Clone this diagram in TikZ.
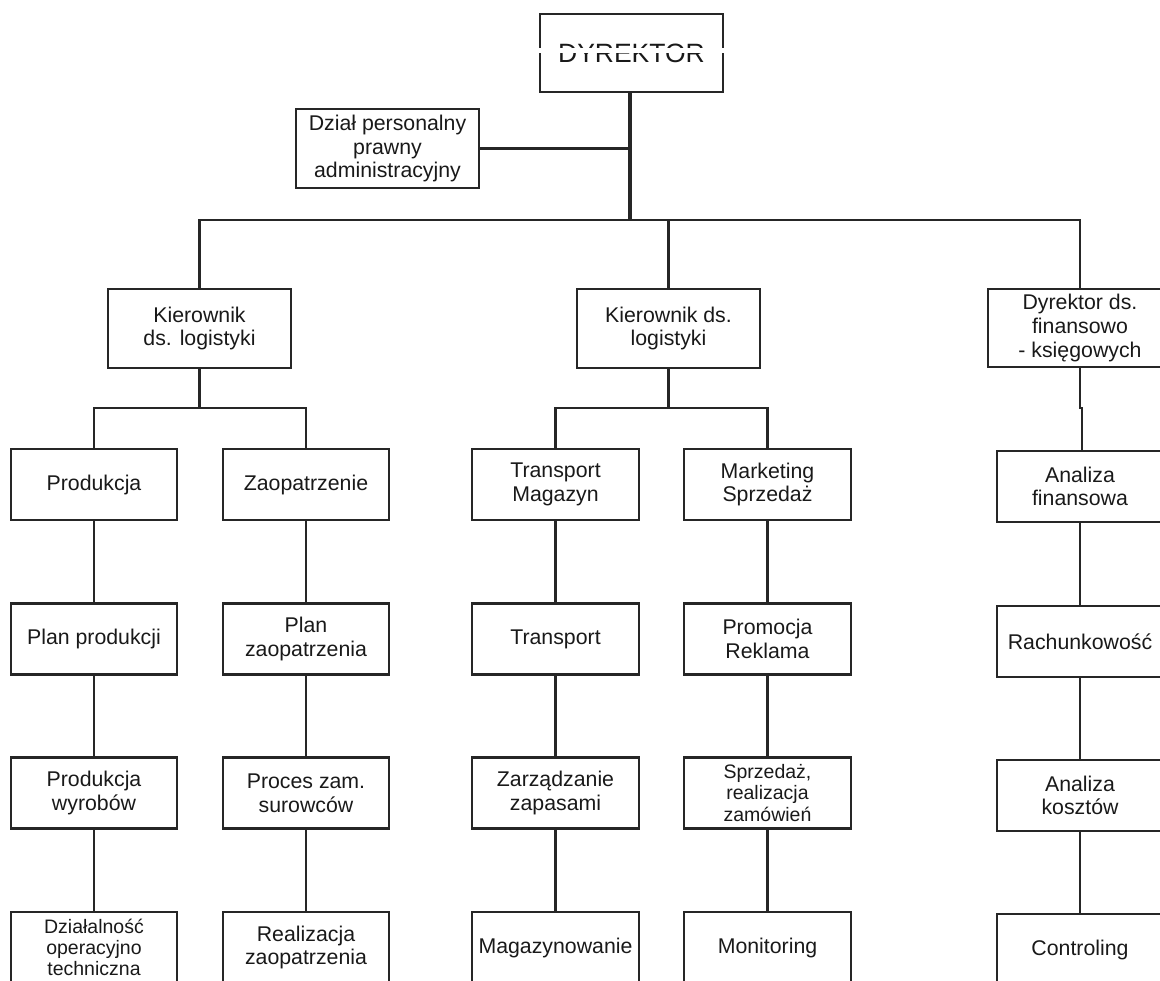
\documentclass[tikz,border=0pt]{standalone}
\usepackage{fontspec}
\setmainfont{Liberation Sans}
\begin{document}
\begin{tikzpicture}[x=1pt,y=-1pt,
  box/.style={draw=black!85, line width=2.6pt, minimum width=166pt, minimum height=71pt,
    inner sep=0pt, align=center, font=\fontsize{21.3}{23.7}\selectfont, text=black!90},
  bigbox/.style={box, minimum width=183pt, minimum height=79pt},
  small/.style={font=\fontsize{19.5}{21.3}\selectfont},
  conn/.style={draw=black!85, line width=2.6pt},
  trunk/.style={draw=black!85, line width=4pt}]
\useasboundingbox (0,0) rectangle (1160,981);
\clip (0,0) rectangle (1160,981);
% top level
\node[bigbox, minimum height=78pt, font=\fontsize{26.5}{30}\selectfont] (dyr) at (631.5,53) {DYREKTOR};
\node[bigbox] (dzial) at (387.5,148.5) {Dział personalny\\prawny\\administracyjny};
\node[bigbox] (k1) at (199.5,328.5) {Kierownik\\ds. logistyki};
\node[bigbox] (k2) at (668.5,328.5) {Kierownik ds.\\logistyki};
\node[bigbox, minimum width=184pt, minimum height=78pt] (k3) at (1080,328) {Dyrektor ds.\\finansowo\\- księgowych};
% column 1
\node[box] (p1) at (94,484.5) {Produkcja};
\node[box] (p2) at (94,639) {Plan produkcji};
\node[box] (p3) at (94,793) {Produkcja\\wyrobów};
\node[box, small] (p4) at (94,947.5) {Działalność\\operacyjno\\techniczna};
% column 2
\node[box] (z1) at (306,484.5) {Zaopatrzenie};
\node[box] (z2) at (306,639) {Plan\\zaopatrzenia};
\node[box] (z3) at (306,793) {Proces zam.\\surowców};
\node[box] (z4) at (306,947.5) {Realizacja\\zaopatrzenia};
% column 3
\node[box, minimum width=167pt] (t1) at (555.5,484.5) {Transport\\Magazyn};
\node[box, minimum width=167pt] (t2) at (555.5,639) {Transport};
\node[box, minimum width=167pt] (t3) at (555.5,793) {Zarządzanie\\zapasami};
\node[box, minimum width=167pt] (t4) at (555.5,947.5) {Magazynowanie};
% column 4
\node[box, minimum width=167pt] (m1) at (767.5,484.5) {Marketing\\Sprzedaż};
\node[box, minimum width=167pt] (m2) at (767.5,639) {Promocja\\Reklama};
\node[box, minimum width=167pt, small] (m3) at (767.5,793) {Sprzedaż,\\realizacja\\zamówień};
\node[box, minimum width=167pt] (m4) at (767.5,947.5) {Monitoring};
% column 5
\node[box] (a1) at (1080,486.5) {Analiza\\finansowa};
\node[box] (a2) at (1080,641.5) {Rachunkowość};
\node[box] (a3) at (1080,795.5) {Analiza\\kosztów};
\node[box] (a4) at (1080,949.5) {Controling};
% scan artifact across the director box
\fill[white] (536,48) rectangle (727,53.5);
% coordinates
\coordinate (bus) at (630,220);
\coordinate (b1) at (199.5,408);
\coordinate (b2) at (668.5,408);
\coordinate (j1) at (1080,408);
\coordinate (j2) at (1082,408);
% connectors
\draw[trunk] (630,92) -- (bus);
\draw[conn] (dzial.east) -- (dzial.east -| bus);
\draw[conn] (k1.north) -- (k1.north |- bus) -- (k3.north |- bus) -- (k3.north);
\draw[conn] (k2.north) -- (k2.north |- bus);
\draw[conn] (k1.south) -- (b1);
\draw[conn] (p1.north) -- (p1.north |- b1) -- (z1.north |- b1) -- (z1.north);
\draw[conn] (k2.south) -- (b2);
\draw[conn] (t1.north) -- (t1.north |- b2) -- (m1.north |- b2) -- (m1.north);
\draw[conn] (k3.south) -- (j1) -- (j2) -- (j2 |- a1.north);
\draw[conn] (p1) -- (p2) (p2) -- (p3) (p3) -- (p4);
\draw[conn] (z1) -- (z2) (z2) -- (z3) (z3) -- (z4);
\draw[conn] (t1) -- (t2) (t2) -- (t3) (t3) -- (t4);
\draw[conn] (m1) -- (m2) (m2) -- (m3) (m3) -- (m4);
\draw[conn] (a1) -- (a2) (a2) -- (a3) (a3) -- (a4);
\end{tikzpicture}
\end{document}
